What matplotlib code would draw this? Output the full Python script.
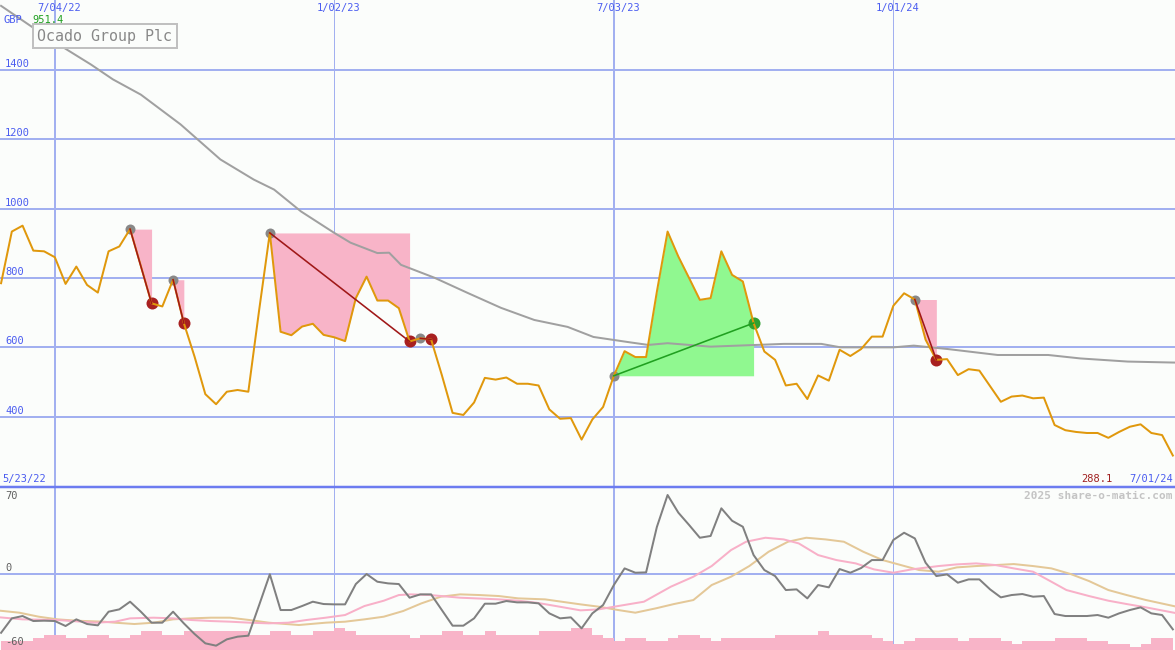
import matplotlib
matplotlib.use('Agg')
import matplotlib.pyplot as plt
import numpy as np

# weekly closes (GBp), week 1 = 5/30/22 ... week 110 = 7/01/24
price = [785, 934, 951, 879, 877, 860, 783, 833, 780, 758,
         877, 891, 941, 835, 727, 718, 795, 670, 573, 465,
         436, 472, 477, 472, 706, 930, 645, 635, 660, 668,
         636, 629, 618, 742, 804, 735, 735, 713, 617, 626,
         623, 520, 411, 405, 441, 512, 507, 513, 495, 495,
         490, 421, 394, 396, 334, 392, 428, 518, 589, 572,
         572, 760, 934, 862, 800, 737, 742, 877, 809, 790,
         670, 588, 564, 490, 495, 451, 519, 504, 593, 575,
         595, 631, 631, 720, 756, 738, 622, 564, 566, 520,
         537, 533, 488, 443, 458, 461, 453, 455, 376, 361,
         356, 353, 353, 339, 356, 371, 378, 353, 347, 288]
weeks = np.arange(1, len(price) + 1)

# long moving average (grey)
ma_x = [1.0, 5.6, 9.35, 11.4, 14.0, 17.7, 21.4, 24.5, 26.4, 28.9, 31.95, 33.5,
        36.0, 37.1, 38.2, 41.3, 44.4, 47.5, 50.6, 53.7, 56.1, 59.6, 61.2, 63.0,
        67.0, 73.8, 77.3, 79.1, 84.0, 85.9, 89.1, 93.7, 98.4, 101.4, 105.8, 110.3]
ma_v = [1585, 1488, 1416, 1373, 1329, 1243, 1142, 1084, 1055, 992, 931, 902,
        872, 873, 838, 801, 757, 714, 679, 659, 630, 614, 607, 612,
        602, 610, 610, 600, 600, 605, 595, 578, 578, 568, 559, 556]

# lower panel: momentum (dark grey), averages (pink, tan), volume steps
osc = [-53.2, -40.2, -38.1, -42.6, -42.3, -42.6, -47.1, -41.1, -45.3, -46.5,
       -34.2, -32.1, -25.2, -34.2, -44.1, -44.1, -34.2, -44.7, -54.3, -62.7,
       -64.8, -59.1, -56.7, -55.8, -28.4, -0.5, -32.7, -32.7, -29.1, -25.2,
       -27.3, -27.6, -27.6, -9.3, -0.3, -7.2, -8.7, -9.3, -21.6, -18.6,
       -18.6, -32.7, -46.8, -46.8, -40.2, -27.0, -27.0, -24.6, -25.8, -25.8,
       -26.7, -35.7, -40.2, -39.3, -49.2, -35.7, -28.2, -10.2, 4.8, 0.9,
       1.2, 42.0, 70.9, 55.0, 43.9, 32.4, 34.0, 58.9, 47.7, 42.3,
       16.8, 3.3, -2.1, -14.7, -14.1, -22.2, -10.2, -12.3, 4.2, 0.9,
       5.1, 12.3, 12.3, 30.4, 36.9, 31.8, 9.9, -2.1, -0.6, -8.1,
       -5.1, -5.1, -14.1, -21.3, -19.2, -18.3, -20.7, -20.1, -36.3, -38.1,
       -38.1, -38.1, -37.2, -39.6, -35.7, -32.7, -30.3, -35.7, -37.2, -50.1]

pink_x = [0.9, 3.0, 6.25, 9.8, 11.6, 13.0, 15.2, 17.0, 18.7, 20.5, 22.3, 24.1,
          25.9, 27.7, 29.4, 31.2, 33.0, 34.8, 36.6, 38.0, 39.1, 40.9, 43.7,
          47.3, 49.1, 50.8, 52.6, 54.9, 56.6, 58.4, 60.8, 63.3, 65.4, 67.1,
          68.9, 70.3, 72.1, 73.8, 75.2, 77.0, 78.7, 80.5, 82.2, 84.0, 85.7,
          88.2, 89.9, 91.7, 93.5, 95.2, 97.0, 98.7, 100.1, 102.2, 104.0,
          105.7, 107.5, 110.3]
pink_v = [-39.3, -41.1, -41.7, -44.1, -43.2, -40.2, -39.6, -40.2, -41.7, -42.6,
          -43.2, -44.1, -44.7, -44.1, -41.7, -39.6, -37.2, -29.1, -24.3, -19.2,
          -18.6, -19.2, -21.6, -23.1, -24.3, -26.1, -29.1, -33.0, -32.1, -29.1,
          -25.2, -11.7, -2.7, 6.9, 21.3, 28.8, 32.4, 30.9, 27.3, 16.8, 12.3,
          9.3, 3.9, 0.9, 3.9, 6.9, 8.4, 9.3, 7.8, 4.8, 1.8, -7.2, -14.7,
          -20.1, -24.3, -27.3, -30.3, -35.5]

tan_x = [0.9, 2.7, 4.5, 6.25, 8.0, 10.5, 11.6, 13.4, 15.2, 17.0, 18.7, 20.5,
         22.3, 24.1, 25.9, 28.7, 31.2, 33.0, 34.8, 36.6, 38.4, 40.1, 41.9,
         43.7, 45.5, 47.3, 49.1, 51.6, 54.9, 56.6, 58.4, 60.0, 61.9, 63.6,
         65.4, 67.1, 68.9, 70.6, 72.4, 74.2, 75.9, 77.7, 79.4, 81.2, 83.0,
         84.7, 86.4, 88.2, 89.9, 91.7, 93.5, 95.2, 97.0, 98.7, 100.5, 102.2,
         104.0, 105.7, 107.5, 110.3]
tan_v = [-33.3, -35.1, -38.7, -41.1, -42.3, -43.2, -44.1, -45.3, -44.1, -41.1,
         -40.2, -39.6, -39.6, -41.7, -44.1, -46.2, -44.1, -43.2, -41.1, -38.7,
         -33.6, -26.7, -20.7, -18.6, -19.2, -20.1, -22.2, -23.1, -27.6, -29.7,
         -32.7, -35.1, -31.2, -27.3, -23.7, -10.2, -2.7, 6.9, 19.8, 28.8,
         32.4, 30.9, 28.8, 19.8, 12.3, 7.8, 3.3, 1.8, 5.7, 6.9, 7.8, 8.7,
         6.9, 4.8, -0.3, -6.6, -14.7, -19.2, -23.7, -29.6]

vol = [-60.6, -60.6, -60.6, -58.2, -55.2, -55.2, -58.2, -58.2, -55.2, -55.2,
       -58.2, -58.2, -55.2, -51.6, -51.6, -55.2, -55.2, -51.6, -51.6, -51.6,
       -51.6, -51.6, -51.6, -55.2, -55.2, -51.6, -51.6, -55.2, -55.2, -51.6,
       -51.6, -49.2, -51.6, -55.2, -55.2, -55.2, -55.2, -55.2, -58.2, -55.2,
       -55.2, -51.6, -51.6, -55.2, -55.2, -51.6, -55.2, -55.2, -55.2, -55.2,
       -51.6, -51.6, -51.6, -49.2, -49.2, -55.2, -58.2, -60.6, -58.2, -58.2,
       -60.6, -60.6, -58.2, -55.2, -55.2, -58.2, -60.6, -58.2, -58.2, -58.2,
       -58.2, -58.2, -55.2, -55.2, -55.2, -55.2, -51.6, -55.2, -55.2, -55.2,
       -55.2, -58.2, -60.6, -63.3, -60.6, -58.2, -58.2, -58.2, -58.2, -60.6,
       -58.2, -58.2, -58.2, -60.6, -63.3, -60.6, -60.6, -60.6, -58.2, -58.2,
       -58.2, -60.6, -60.6, -63.3, -63.3, -65.7, -63.3, -58.2, -58.2, -58.2]

# trades: entry week -> exit week
trade_in = [13, 17, 26, 40, 58, 86]
trade_out = [15, 18, 39, 41, 71, 88]

grid_weeks = [6, 32, 58, 84]
grid_labels = ['7/04/22', '1/02/23', '7/03/23', '1/01/24']
price_ticks = [400, 600, 800, 1000, 1200, 1400]
osc_ticks = [70, 0, -60]

W, H = 1175, 650
bg = '#fbfdfb'
gridc = '#a2b0f0'
blue = '#4a5cf0'
mono = 'DejaVu Sans Mono'
px = 0.72  # points per pixel at dpi 100

fig = plt.figure(figsize=(W / 100, H / 100), dpi=100, facecolor=bg)
ax = fig.add_axes([0, 163 / H, 1, 487 / H])
ax2 = fig.add_axes([0, 0, 1, 163 / H])
xlim = (0.9, 110.2)

for a in (ax, ax2):
    a.set_axis_off()
    a.set_xlim(*xlim)
    for k, g in enumerate(grid_weeks):
        a.axvline(g, color=gridc, lw=(2 if k % 2 == 0 else 1) * px, zorder=0)

# ---- main price panel
ax.set_ylim(197.2, 1601.9)
for t in price_ticks:
    ax.axhline(t, color=gridc, lw=2 * px, zorder=0)

p = np.array(price)
for a_, b_ in zip(trade_in, trade_out):
    xs = weeks[a_ - 1:b_]
    entry = p[a_ - 1]
    gain = p[b_ - 1] > entry
    ax.fill_between(xs, p[a_ - 1:b_], entry, color='#90f890' if gain else '#f8b4c8',
                    lw=0, zorder=1)

ax.plot(ma_x, ma_v, color='#a0a0a0', lw=2 * px, zorder=2)

for a_, b_ in zip(trade_in, trade_out):
    gain = p[b_ - 1] > p[a_ - 1]
    ax.plot(a_, p[a_ - 1], 'o', color='#888888', ms=10 * px, mew=0, zorder=3)
    ax.plot(b_, p[b_ - 1], 'o', color='#30a030' if gain else '#a82020',
            ms=12 * px, mew=0, zorder=3)

ax.plot(weeks, p, color='#e0980c', lw=2 * px, zorder=4)

for a_, b_ in zip(trade_in, trade_out):
    gain = p[b_ - 1] > p[a_ - 1]
    ax.plot([a_, b_], [p[a_ - 1], p[b_ - 1]], color='#20a020' if gain else '#a01818',
            lw=1.6 * px, zorder=5)

# ---- lower indicator panel
ax2.set_ylim(-68.7, 78.1)
ax2.axhline(0, color=gridc, lw=2 * px, zorder=0)
ax2.fill_between(weeks, -70, vol, step='post', color='#f8b4c8', lw=0, zorder=1)
ax2.plot(tan_x, tan_v, color='#e4c898', lw=2 * px, zorder=2)
ax2.plot(pink_x, pink_v, color='#f8b0c8', lw=2 * px, zorder=2)
ax2.plot(weeks, osc, color='#808080', lw=2 * px, zorder=3)

# panel separator
fig.add_artist(plt.Line2D([0, 1], [163 / H, 163 / H], color='#6c7cf0', lw=2.5 * px))


def ftext(x, y, s, **kw):
    kw.setdefault('family', mono)
    kw.setdefault('fontsize', 7.5)
    kw.setdefault('va', 'center')
    fig.text(x / W, 1 - y / H, s, **kw)


for g, lab in zip(grid_weeks, grid_labels):
    xp = (g - xlim[0]) / (xlim[1] - xlim[0]) * W
    ftext(xp + 4, 8, lab, color=blue, ha='center')

for t in price_ticks:
    yp = 487 - (t - 197.2) / (1601.9 - 197.2) * 487
    ftext(5, yp - 6, str(t), color=blue, ha='left')

ftext(4, 20, 'GBP', color=blue, ha='left')
ftext(32, 20, '951.4', color='#20a020', ha='left')
ftext(37, 36, 'Ocado Group Plc', color='#888888', ha='left', fontsize=10.8,
      bbox=dict(boxstyle='square,pad=0.3', fc=bg, ec='#c0c0c0', lw=2 * px))

ftext(2, 479, '5/23/22', color=blue, ha='left')
ftext(1112, 479, '288.1', color='#a02020', ha='right')
ftext(1173, 479, '7/01/24', color=blue, ha='right')
ftext(1173, 496, '2025 share-o-matic.com', color='#c4c4c4', ha='right',
      fontweight='bold', fontsize=8)

ftext(5, 496, '70', color='#606060', ha='left')
ftext(5, 568, '0', color='#606060', ha='left')
ftext(5, 642, '-60', color='#606060', ha='left')

fig.savefig('out.png', dpi=100, facecolor=bg)
